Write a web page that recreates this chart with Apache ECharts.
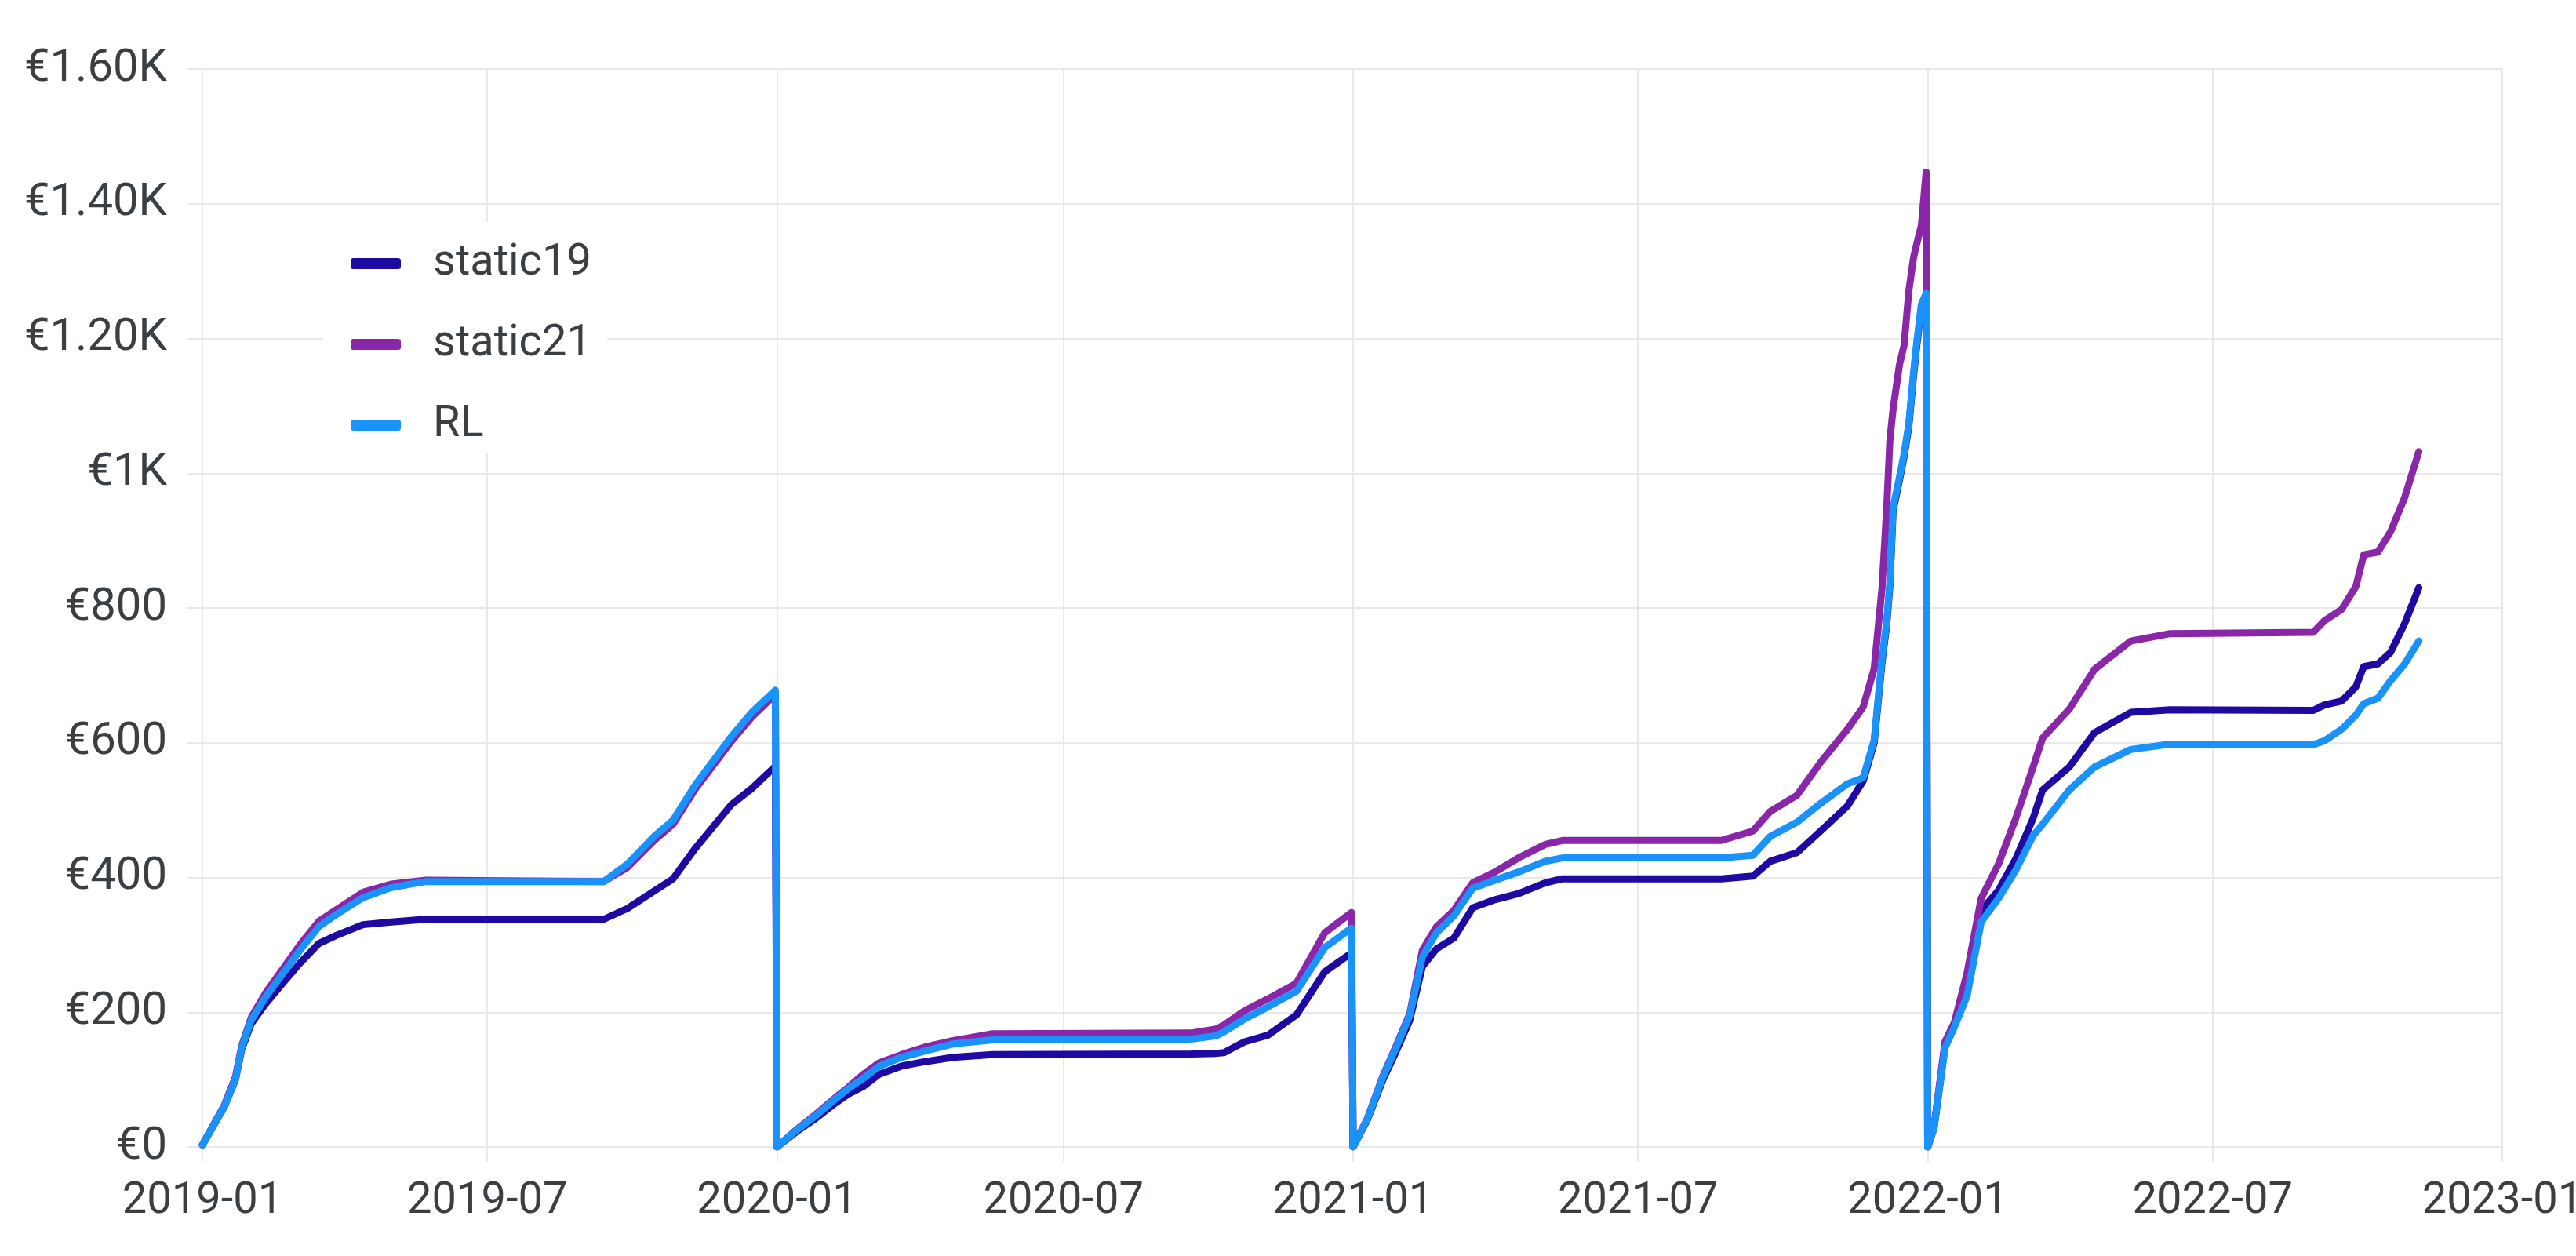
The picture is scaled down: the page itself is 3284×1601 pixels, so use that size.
<!DOCTYPE html>
<html>
<head>
<meta charset="utf-8">
<title>static19 / static21 / RL</title>
<script src="https://cdn.jsdelivr.net/npm/echarts@6/dist/echarts.min.js"></script>
<style>
    html, body { margin: 0; padding: 0; background: #fff; }
    #main { width: 3284px; height: 1601px; }
</style>
</head>
<body>
<div id="main"></div>
<script>
// cumulative cost, resets at the start of every year
var dates = [
    '2019-01-01', '2019-01-15', '2019-01-22', '2019-01-26', '2019-02-01', '2019-02-10', '2019-02-21',
    '2019-03-04', '2019-03-16', '2019-03-27', '2019-04-13', '2019-05-01', '2019-05-23', '2019-09-13',
    '2019-09-28', '2019-10-15', '2019-10-27', '2019-11-10', '2019-12-03', '2019-12-16', '2019-12-31',
    '2020-01-01', '2020-01-13', '2020-01-26', '2020-02-07', '2020-02-15', '2020-02-25', '2020-03-06',
    '2020-03-20', '2020-04-05', '2020-04-22', '2020-05-17', '2020-09-20', '2020-10-06', '2020-10-11',
    '2020-10-24', '2020-11-08', '2020-11-26', '2020-12-14', '2020-12-31',
    '2021-01-01', '2021-01-10', '2021-01-20', '2021-01-28', '2021-02-06', '2021-02-14', '2021-02-23',
    '2021-03-06', '2021-03-18', '2021-04-01', '2021-04-16', '2021-05-03', '2021-05-14', '2021-08-23',
    '2021-09-12', '2021-09-23', '2021-10-10', '2021-10-25', '2021-11-11', '2021-11-21', '2021-11-28',
    '2021-12-03', '2021-12-06', '2021-12-08', '2021-12-10', '2021-12-14', '2021-12-17', '2021-12-20',
    '2021-12-23', '2021-12-25', '2021-12-28', '2021-12-31',
    '2022-01-01', '2022-01-05', '2022-01-12', '2022-01-18', '2022-01-26', '2022-02-04', '2022-02-15',
    '2022-02-26', '2022-03-09', '2022-03-15', '2022-04-01', '2022-04-17', '2022-05-10', '2022-06-04',
    '2022-09-03', '2022-09-10', '2022-09-21', '2022-09-30', '2022-10-05', '2022-10-14', '2022-10-22',
    '2022-10-31', '2022-11-09'
];

var static19 = [
    3, 60, 100, 145, 183, 212, 243,
    273, 302, 314, 330, 334, 338, 338,
    354, 380, 398, 443, 508, 532, 565,
    0, 22, 43, 65, 78, 90, 108,
    120, 127, 133, 137, 138, 139, 140,
    156, 166, 196, 260, 288,
    0, 40, 100, 140, 188, 268, 294,
    310, 355, 367, 376, 392, 398, 398,
    402, 424, 437, 469, 506, 543, 600,
    720, 776, 834, 944, 989, 1025, 1069,
    1144, 1188, 1246, 1262,
    0, 28, 150, 181, 240, 351, 381,
    428, 488, 530, 564, 615, 645, 649,
    648, 656, 662, 683, 713, 717, 734,
    777, 830
];

var static21 = [
    3, 62, 104, 150, 192, 228, 264,
    300, 335, 352, 378, 390, 396, 394,
    415, 455, 479, 531, 602, 638, 672,
    0, 25, 49, 73, 88, 108, 125,
    137, 149, 158, 168, 169, 175, 181,
    202, 220, 243, 318, 348,
    0, 42, 106, 148, 198, 292, 327,
    351, 392, 408, 429, 449, 455, 455,
    469, 498, 522, 571, 620, 653, 710,
    830, 950, 1050, 1095, 1160, 1190, 1270,
    1320, 1340, 1368, 1447,
    0, 30, 156, 185, 258, 369, 420,
    488, 564, 607, 650, 709, 751, 762,
    764, 781, 798, 832, 879, 883, 913,
    964, 1032
];

var rl = [
    3, 60, 101, 147, 188, 222, 257,
    292, 327, 345, 370, 385, 394, 394,
    420, 461, 485, 537, 609, 645, 678,
    0, 24, 47, 71, 86, 102, 120,
    133, 143, 153, 159, 160, 165, 171,
    190, 208, 231, 296, 325,
    0, 41, 104, 146, 195, 282, 318,
    343, 384, 396, 408, 424, 429, 429,
    433, 461, 482, 510, 539, 548, 604,
    725, 780, 838, 949, 993, 1029, 1073,
    1149, 1193, 1251, 1267,
    0, 28, 147, 178, 224, 334, 369,
    411, 462, 479, 530, 564, 590, 598,
    597, 603, 620, 641, 658, 666, 692,
    717, 751
];

var seriesNames = ['static19', 'static21', 'RL'];
var seriesColors = ['#1e0aa3', '#8a27a8', '#1a92fb'];
var yTicks = [0, 200, 400, 600, 800, 1000, 1200, 1400, 1600];

var gridColor = '#e9e9e9';
var textColor = '#3a3f44';

function pairs(values) {
    return dates.map(function (d, i) { return [d, values[i]]; });
}

function euro(v) {
    if (v === 0) return '€0';
    if (v < 1000) return '€' + v;
    if (v === 1000) return '€1K';
    return '€' + (v / 1000).toFixed(2) + 'K';
}

var myChart = echarts.init(document.getElementById('main'));

var option = {
    animation: false,
    backgroundColor: '#fff',
    textStyle: { fontFamily: 'Roboto' },
    grid: {
        left: 258,
        right: 94,
        top: 88,
        bottom: 139,
        outerBoundsMode: 'none'
    },
    legend: {
        orient: 'vertical',
        left: 412,
        top: 283,
        backgroundColor: '#fff',
        padding: [23, 20, 5, 35],
        itemWidth: 64,
        itemHeight: 14,
        itemGap: 43,
        icon: 'roundRect',
        data: seriesNames,
        textStyle: {
            fontFamily: 'Roboto',
            fontSize: 56,
            lineHeight: 60,
            color: textColor,
            padding: [0, 0, 0, 36]
        }
    },
    xAxis: {
        type: 'time',
        min: '2019-01-01',
        max: '2023-01-01',
        splitNumber: 8,
        axisLine: { show: false },
        axisTick: {
            show: true,
            length: 19,
            lineStyle: { color: gridColor, width: 2 }
        },
        splitLine: {
            show: true,
            lineStyle: { color: gridColor, width: 2 }
        },
        axisLabel: {
            fontFamily: 'Roboto',
            fontSize: 56,
            color: textColor,
            margin: 42,
            hideOverlap: false,
            showMinLabel: true,
            showMaxLabel: true,
            formatter: function (value) {
                return echarts.time.format(value, '{yyyy}-{MM}', false);
            }
        }
    },
    yAxis: {
        type: 'value',
        min: yTicks[0],
        max: yTicks[yTicks.length - 1],
        interval: 200,
        axisLine: { show: false },
        axisTick: {
            show: true,
            length: 19,
            lineStyle: { color: gridColor, width: 2 }
        },
        splitLine: {
            lineStyle: { color: gridColor, width: 2 }
        },
        axisLabel: {
            fontFamily: 'Roboto',
            fontSize: 58,
            color: textColor,
            margin: 45,
            formatter: euro
        }
    },
    series: [static19, static21, rl].map(function (values, i) {
        return {
            name: seriesNames[i],
            type: 'line',
            data: pairs(values),
            showSymbol: false,
            color: seriesColors[i],
            lineStyle: { width: 9, color: seriesColors[i], cap: 'round', join: 'round' },
            itemStyle: { color: seriesColors[i] }
        };
    })
};

myChart.setOption(option);
</script>
</body>
</html>
